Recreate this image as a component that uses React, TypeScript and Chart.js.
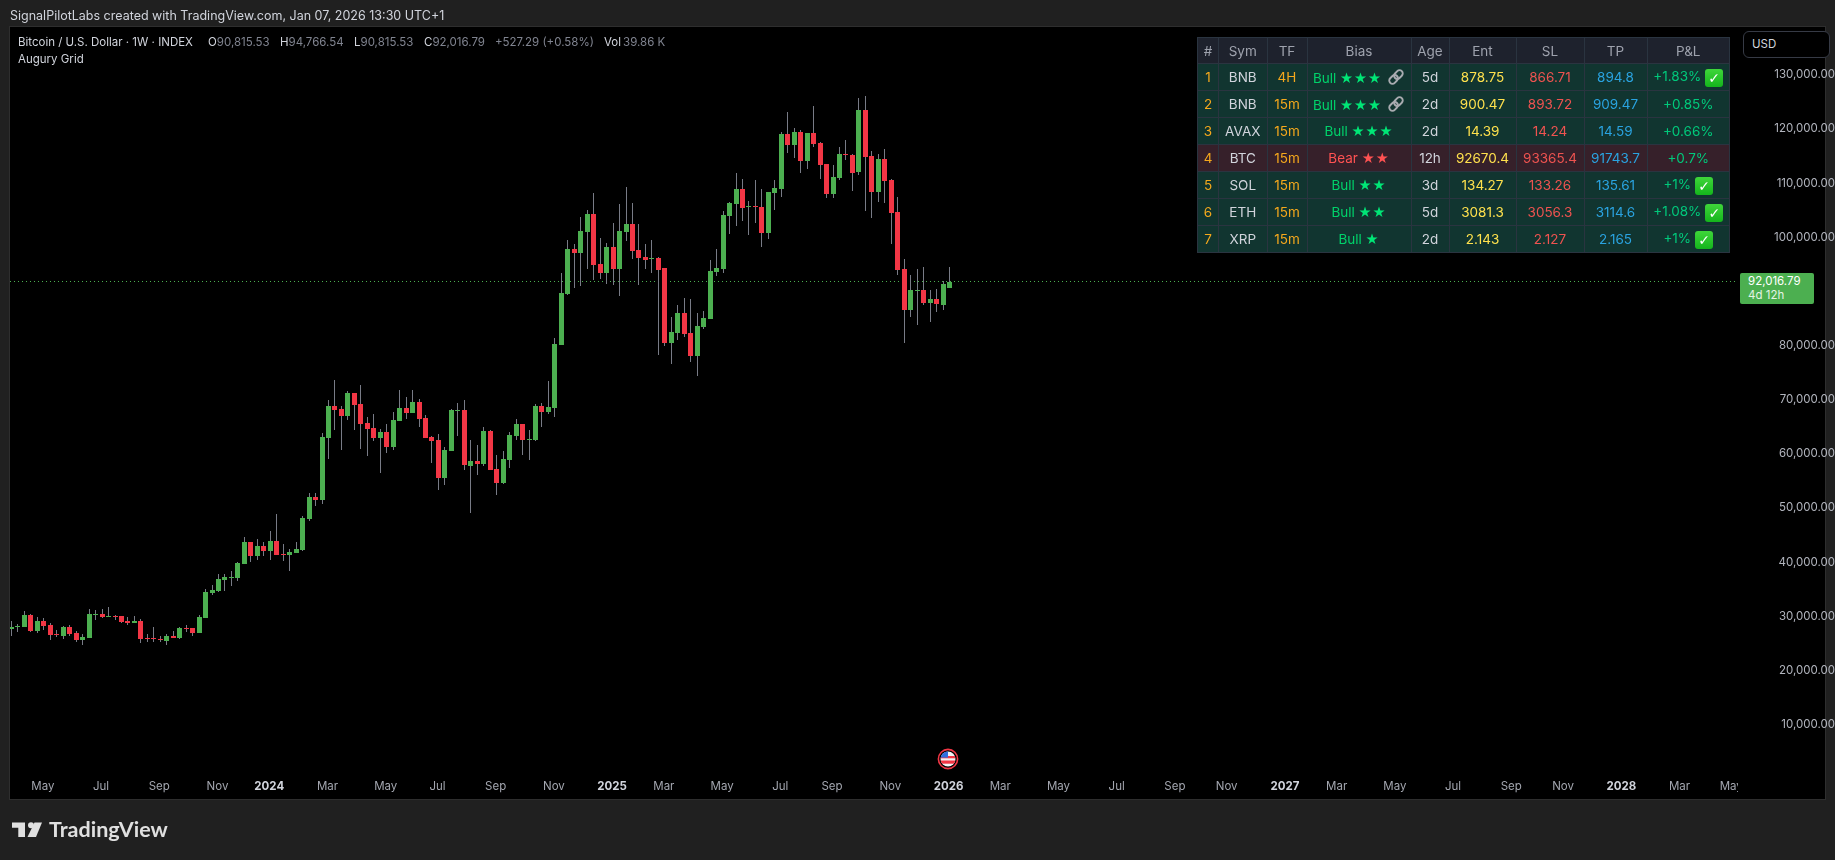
import React, { useEffect, useRef } from "react";
import Chart from "chart.js/auto";

const opens = [27864,28172,28172,30388,27433,29280,28541,26879,26510,28172,27064,25771,26141,30388,30573,30019,30204,30204,29280,28911,29280,26141,26141,25956,25587,26510,26141,27987,27987,27064,29834,34451,34821,36852,37283,37221,39807,43870,41284,43131,42208,44055,41654,41469,41838,42391,48116,52179,51625,63075,68985,68431,67138,71386,69354,65845,64922,63075,64183,61413,66215,68615,67692,69723,66769,63260,62706,55688,60674,68123,68246,57904,58827,58273,64368,57350,54764,59012,63444,65660,62705,62705,68984,67876,68614,80249,89667,97978,97239,101117,104442,95208,93546,98347,94284,101117,102595,97793,96500,96131,96316,94469,80618,82465,86158,82465,78217,83573,85050,93730,94284,104072,106287,109058,105733,105918,105733,100932,108319,109058,119215,117184,119584,114229,119400,117553,113675,108134,111089,115521,115337,112197,123647,115152,108504,114598,110720,104810,94283,86711,90220,90405,88004,88743,87635,90815.53];
const highs = [29280,28726,31127,30573,30019,29834,28911,27618,28357,28541,27433,26879,31496,31312,31496,31866,30388,30204,30019,30204,29649,26879,28172,26510,26879,27433,28172,28541,27987,30388,35190,35929,37960,37960,38514,40176,44793,43870,44424,43870,45901,49041,43624,42700,43870,48670,52918,52918,63998,70093,73786,68985,71755,71386,72863,66953,67507,64737,65660,67877,71940,70647,71940,70277,67323,63444,63814,61413,68431,69539,70093,62706,61782,65106,64552,59935,60674,64183,66583,65660,64552,69354,69538,73601,81541,93546,99640,98901,103888,105180,108320,100009,99086,102780,106288,109428,106473,102595,98901,99640,96500,94469,85420,87636,88929,88744,86158,86528,95946,97978,104996,106658,112013,110904,106842,110720,109058,108504,110720,119584,123278,120323,119954,119400,124386,117738,113675,113490,116814,118107,115521,125864,126233,116076,115521,116445,110904,107580,96130,93175,94283,94653,90405,90590,92067,94766.54];
const lows = [26510,27249,28172,27249,27064,27618,25771,26325,25956,26510,25402,24848,26141,29465,29834,30019,29465,28911,28541,28911,25217,25402,25402,25402,24848,26141,25956,27249,26510,27064,29834,34082,34636,34821,35744,36667,39807,40176,40546,41284,40546,41469,40361,38514,41838,42206,47747,50517,50886,59197,64552,60859,66399,64552,61043,59751,62521,56611,60305,60859,66215,66584,67692,65106,63075,58458,53472,54395,60674,63444,57165,49224,56242,57904,57165,52548,54579,57534,62705,59935,59012,62521,65106,67507,66953,80249,89483,90775,91145,94284,92253,92437,91514,91329,89298,99455,96131,91329,94284,93546,78402,80064,76740,81172,81726,77109,74524,83203,85050,92992,93546,100748,102225,103148,100562,102779,98346,99824,105179,107580,115706,114783,112013,112751,116814,110904,107396,107396,110720,114413,108688,111643,104995,103702,106657,106472,98900,93175,80617,85419,83941,87635,84495,86342,86711,90815.53];
const closes = [28172,28418,30388,27433,29280,28357,26695,26695,28172,26879,25771,26325,30573,30573,30019,30204,30019,29095,28911,29280,25956,25956,25956,25771,26510,26141,27987,27803,27064,30019,34636,35005,37037,37406,37406,39992,43870,41284,43131,42208,44055,41469,41469,42023,42577,48301,52179,51625,63260,68985,68246,67138,71386,69169,65660,64737,63075,64183,61413,66399,68615,67692,69723,66584,63075,62521,55688,60859,68246,68246,58089,58827,58273,64368,57165,54764,59196,63629,65660,62705,62890,68984,67876,68800,80433,89852,97978,97239,101302,104442,95023,93546,98347,94284,101302,102595,97609,96316,95946,96316,94100,80618,82649,86158,82280,78217,83758,85235,93915,94469,104257,106473,109058,105549,105918,105733,100932,108504,109242,119215,117184,119584,114229,119400,117368,113490,108134,111274,115521,115337,112013,123647,114967,108504,114598,110535,104625,94099,86711,90405,90405,88004,88743,87819,91513,92016.79];

const yTicks = [10000,20000,30000,40000,50000,60000,70000,80000,100000,110000,120000,130000];
const xTickPos = [5,14,23,32,40,49,58,66,75,84,93,101,110,119,127,136,145,153,162,171,180,188,197,205,214,223,232,240,249,258,266];
const xTickText = ["May","Jul","Sep","Nov","2024","Mar","May","Jul","Sep","Nov","2025","Mar","May","Jul","Sep","Nov","2026","Mar","May","Jul","Sep","Nov","2027","Mar","May","Jul","Sep","Nov","2028","Mar","May"];
const lastPrice = 92016.79;

const tableHeader = ["#","Sym","TF","Bias","Age","Ent","SL","TP","P&L"];
const rowSym = ["BNB","BNB","AVAX","BTC","SOL","ETH","XRP"];
const rowTf = ["4H","15m","15m","15m","15m","15m","15m"];
const rowSide = ["Bull","Bull","Bull","Bear","Bull","Bull","Bull"];
const rowStars = ["★★★","★★★","★★★","★★","★★","★★","★"];
const rowLink = [true,true,false,false,false,false,false];
const rowAge = ["5d","2d","2d","12h","3d","5d","2d"];
const rowEnt = ["878.75","900.47","14.39","92670.4","134.27","3081.3","2.143"];
const rowSl = ["866.71","893.72","14.24","93365.4","133.26","3056.3","2.127"];
const rowTp = ["894.8","909.47","14.59","91743.7","135.61","3114.6","2.165"];
const rowPnl = ["+1.83%","+0.85%","+0.66%","+0.7%","+1%","+1.08%","+1%"];
const rowDone = [true,false,false,false,true,true,true];
const colWidths = [21,48.5,40,104,38,67,68,63,82.5];

const FONT = "Inter, Roboto, sans-serif";
const GREEN = "#4caf50";
const RED = "#f23645";
const WICK = "#787b86";

const snapPlugin = {
  id: "snap",
  beforeDatasetsDraw(chart: any) {
    chart.data.datasets.forEach((ds: any, i: number) => {
      if (ds.type === "line") return;
      chart.getDatasetMeta(i).data.forEach((el: any) => {
        el.x = Math.floor(el.x) + 0.5;
        const a = Math.round(el.y);
        let b = Math.round(el.base);
        if (a === b) b = a + 1;
        el.y = a;
        el.base = b;
      });
    });
  },
};

function abs(left: number, top: number, extra: React.CSSProperties = {}): React.CSSProperties {
  return { position: "absolute", left, top, whiteSpace: "nowrap", ...extra };
}

function ChainIcon() {
  return (
    <svg width="18" height="18" viewBox="0 0 18 18" style={{ verticalAlign: "-3px", marginLeft: 5 }}>
      <g fill="none" stroke="#a8abb0" strokeWidth="1.9" transform="rotate(-45 9 9)">
        <rect x="0.8" y="5.8" width="9.6" height="6.4" rx="3.2" />
        <rect x="7.6" y="5.8" width="9.6" height="6.4" rx="3.2" />
      </g>
    </svg>
  );
}

function Check() {
  return (
    <span style={{ display: "inline-block", width: 18, height: 18, lineHeight: "18px", marginLeft: 4, borderRadius: 3, background: "linear-gradient(#3fd63a,#14b51c)", color: "#fff", fontFamily: "'DejaVu Sans'", fontWeight: 700, fontSize: 14, textAlign: "center", verticalAlign: "-2px" }}>✓</span>
  );
}

function Table() {
  const border = "1px solid #2a3440";
  const cell: React.CSSProperties = { padding: 0, border, textAlign: "center", overflow: "hidden", whiteSpace: "nowrap" };
  return (
    <table style={{ ...abs(1197, 37), width: 532, height: 215, tableLayout: "fixed", borderCollapse: "collapse", fontFamily: FONT, fontSize: 13.5, lineHeight: "18px" }}>
      <colgroup>{colWidths.map((w, i) => <col key={i} style={{ width: w }} />)}</colgroup>
      <tbody>
        <tr style={{ background: "#1e222d", height: 26 }}>
          {tableHeader.map((h) => <td key={h} style={{ ...cell, color: "#9ea2ad" }}>{h}</td>)}
        </tr>
        {rowSym.map((s, i) => {
          const bull = rowSide[i] === "Bull";
          return (
            <tr key={i} style={{ background: bull ? "#113530" : "#36202a", height: 27 }}>
              <td style={{ ...cell, color: "#f5a81c" }}>{i + 1}</td>
              <td style={{ ...cell, color: "#d1d4dc" }}>{s}</td>
              <td style={{ ...cell, color: "#f5a81c" }}>{rowTf[i]}</td>
              <td style={{ ...cell, color: bull ? "#00d26a" : "#ff5252" }}>
                {rowSide[i]} <span style={{ fontFamily: "'DejaVu Sans'", fontSize: 14.5, letterSpacing: 1, color: bull ? "#00e676" : "#ff5252" }}>{rowStars[i]}</span>
                {rowLink[i] ? <ChainIcon /> : null}
              </td>
              <td style={{ ...cell, color: "#d1d4dc" }}>{rowAge[i]}</td>
              <td style={{ ...cell, color: "#ffe14d" }}>{rowEnt[i]}</td>
              <td style={{ ...cell, color: "#ef5350" }}>{rowSl[i]}</td>
              <td style={{ ...cell, color: "#2aa3e0" }}>{rowTp[i]}</td>
              <td style={{ ...cell, color: "#00c97b" }}>{rowPnl[i]}{rowDone[i] ? <Check /> : null}</td>
            </tr>
          );
        })}
      </tbody>
    </table>
  );
}

export default function App() {
  const ref = useRef<HTMLCanvasElement | null>(null);
  useEffect(() => {
    const idx = closes.map((_, i) => i);
    const chart = new Chart(ref.current!, {
      type: "bar",
      data: {
        datasets: [
          {
            type: "bar", label: "Body", order: 1, grouped: false, barThickness: 5, inflateAmount: 0, borderWidth: 0,
            backgroundColor: idx.map((i) => (closes[i] >= opens[i] ? GREEN : RED)),
            data: idx.map((i) => ({ x: i, y: [opens[i], closes[i]] })),
          },
          {
            type: "bar", label: "Wick", order: 2, grouped: false, barThickness: 1, inflateAmount: 0, borderWidth: 0,
            backgroundColor: WICK,
            data: idx.map((i) => ({ x: i, y: [lows[i], highs[i]] })),
          },
          {
            type: "line", label: "Last", order: 3, borderColor: GREEN, borderWidth: 1, borderDash: [1, 3], pointRadius: 0,
            data: [{ x: -0.232, y: lastPrice }, { x: 266.89, y: lastPrice }],
          },
        ],
      } as any,
      options: {
        animation: false,
        responsive: false,
        devicePixelRatio: 1,
        layout: { autoPadding: false, padding: { left: 10, top: 27, right: 0, bottom: 0 } },
        plugins: { legend: { display: false }, tooltip: { enabled: false } },
        scales: {
          x: {
            type: "linear", offset: false, min: -0.232, max: 266.89,
            grid: { display: false, drawTicks: false }, border: { display: false },
            afterBuildTicks: (s: any) => { s.ticks = xTickPos.map((v) => ({ value: v })); },
            afterFit: (s: any) => { s.height = 87; },
            ticks: {
              autoSkip: false, maxRotation: 0, minRotation: 0, padding: 7, labelOffset: -1,
              callback: (v: any) => xTickText[xTickPos.indexOf(v)],
              color: (c: any) => (/^\d/.test(xTickText[c.index] || "") ? "#d1d4dc" : "#a3a6af"),
              font: (c: any) => ({ family: FONT, size: 11.5, weight: /^\d/.test(xTickText[c.index] || "") ? 700 : 400 }),
            },
          },
          y: {
            type: "linear", position: "right", min: 1252, max: 139018,
            grid: { display: false, drawTicks: false }, border: { display: false },
            afterBuildTicks: (s: any) => { s.ticks = yTicks.map((v) => ({ value: v })); },
            afterFit: (s: any) => { s.width = 97; },
            ticks: {
              padding: 10, crossAlign: "far", labelOffset: -1, color: "#b2b5be", autoSkip: false,
              font: { family: FONT, size: 11.5 },
              callback: (v: any) => Number(v).toLocaleString("en-US", { minimumFractionDigits: 2, maximumFractionDigits: 2 }),
            },
          },
        },
      } as any,
      plugins: [snapPlugin],
    });
    return () => chart.destroy();
  }, []);

  const legendGray = "#808490";
  const lt: React.CSSProperties = { fontFamily: FONT, fontSize: 11.5, lineHeight: "14px", color: "#d1d4dc" };
  return (
    <div style={{ position: "fixed", left: 0, top: 0, width: 1835, height: 860, background: "#202020", overflow: "hidden" }}>
      <div style={{ position: "absolute", left: 9, top: 26, width: 1815, height: 772, background: "#000", border: "1px solid #2e2e2e" }} />
      <canvas ref={ref} width={1835} height={860} style={{ position: "absolute", left: 0, top: 0, width: 1835, height: 860 }} />
      <div style={{ position: "absolute", left: 1738, top: 776, width: 20, height: 22, background: "#000" }} />

      <div style={abs(10, 8, { ...lt, fontSize: 12.5, lineHeight: "16px", color: "#d1d4dc" })}>SignalPilotLabs created with TradingView.com, Jan 07, 2026 13:30 UTC+1</div>

      <div style={abs(18, 35, lt)}>Bitcoin / U.S. Dollar · 1W · INDEX</div>
      <div style={abs(208, 35, lt)}>O<span style={{ color: legendGray }}>90,815.53</span></div>
      <div style={abs(280, 35, lt)}>H<span style={{ color: legendGray }}>94,766.54</span></div>
      <div style={abs(354, 35, lt)}>L<span style={{ color: legendGray }}>90,815.53</span></div>
      <div style={abs(424, 35, lt)}>C<span style={{ color: legendGray }}>92,016.79</span></div>
      <div style={abs(495, 35, { ...lt, color: legendGray })}>+527.29 (+0.58%)</div>
      <div style={abs(604, 35, lt)}>Vol<span style={{ color: legendGray, marginLeft: 2 }}>39.86 K</span></div>
      <div style={abs(18, 52, lt)}>Augury Grid</div>

      <Table />

      <div style={{ ...abs(1743, 31), width: 77, height: 25, border: "1px solid #363a45", borderRadius: 6, background: "#000", color: "#d1d4dc", fontFamily: FONT, fontSize: 11.5, lineHeight: "25px", paddingLeft: 8, boxSizing: "content-box" as const }}>USD</div>

      <div style={{ ...abs(1740, 273), width: 74, height: 31, background: GREEN, borderRadius: 2 }}>
        <div style={abs(8, 1, { fontFamily: FONT, fontSize: 11.5, lineHeight: "14px", color: "#fff" })}>92,016.79</div>
        <div style={abs(8, 15, { fontFamily: FONT, fontSize: 11.5, lineHeight: "14px", color: "#e4f3e5" })}>4d 12h</div>
      </div>

      <svg width="22" height="22" viewBox="0 0 22 22" style={{ position: "absolute", left: 936.5, top: 748 }}>
        <defs><clipPath id="fc"><circle cx="11" cy="11" r="7.5" /></clipPath></defs>
        <circle cx="11" cy="11" r="9.6" fill="#000" stroke={RED} strokeWidth="1.6" />
        <g clipPath="url(#fc)">
          <rect x="3" y="3" width="16" height="16" fill="#f2f3f5" />
          <rect x="3" y="8" width="16" height="2.3" fill="#f23645" />
          <rect x="3" y="12.5" width="16" height="3.2" fill="#f23645" />
          <rect x="3" y="3" width="8" height="6.6" fill="#2f6fe0" />
        </g>
      </svg>

      <svg width="32" height="16" viewBox="0 0 32 16" style={{ position: "absolute", left: 11, top: 822 }}>
        <path d="M1 0.5H14V15H7.3V5.8H1Z" fill="#e0e0e0" />
        <circle cx="20" cy="3.3" r="3" fill="#e0e0e0" />
        <path d="M23.5 0.5H31L25 15H16.5Z" fill="#e0e0e0" />
      </svg>
      <div style={abs(49, 815, { fontFamily: "Lato, Inter, sans-serif", fontWeight: 700, fontSize: 21.5, lineHeight: "28px", color: "#e0e0e0" })}>TradingView</div>
    </div>
  );
}
